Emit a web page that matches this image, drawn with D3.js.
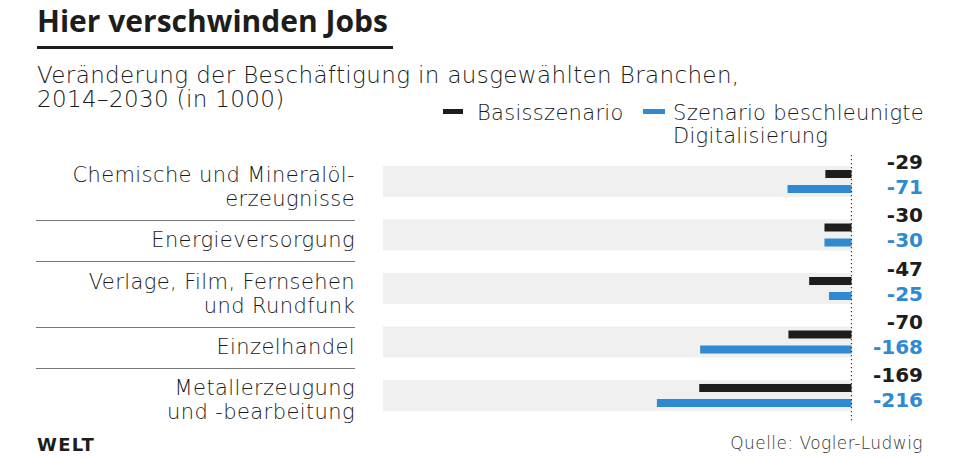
<!DOCTYPE html>
<html><head><meta charset="utf-8">
<script src="https://cdn.jsdelivr.net/npm/d3@7"></script>
<style>
body{margin:0;background:#fff;}
text{font-family:"DejaVu Sans",sans-serif;}
</style></head>
<body><svg id="c" width="960" height="459"></svg>
<script>
const categories = [
  ["Chemische und Mineralöl-", "erzeugnisse"],
  ["Energieversorgung"],
  ["Verlage, Film, Fernsehen", "und Rundfunk"],
  ["Einzelhandel"],
  ["Metallerzeugung", "und -bearbeitung"]
];
const basis = [-29, -30, -47, -70, -169];
const digital = [-71, -30, -25, -168, -216];
const seriesNames = ["Basisszenario", "Szenario beschleunigte", "Digitalisierung"];
const title = "Hier verschwinden Jobs";
const subtitle = ["Veränderung der Beschäftigung in ausgewählten Branchen,", "2014–2030 (in 1000)"];
const source = "Quelle: Vogler-Ludwig";
const logo = "WELT";

const BLACK = "#1d1d1b", BLUE = "#2f8ad2", GRAY = "#f0f0f0", TXT = "#1a1a1a";
const svg = d3.select("#c");

// title
svg.append("text").attr("x", 37).attr("y", 32).attr("font-size", 30).attr("font-weight", 700)
  .style("font-family", "'Open Sans',sans-serif").attr("fill", BLACK).text(title);
svg.append("rect").attr("x", 37).attr("y", 46).attr("width", 356).attr("height", 3).attr("fill", BLACK);
subtitle.forEach((s, i) => svg.append("text").attr("x", 37).attr("y", 83 + i * 24)
  .attr("font-size", 23).attr("font-weight", 300).attr("letter-spacing", 0.37).attr("fill", TXT).text(s));

// scales
const x = d3.scaleLinear().domain([-520, 0]).range([383, 851.5]);
const y = d3.scaleBand().domain(d3.range(categories.length)).range([166, 411]).paddingInner(0.42).paddingOuter(0);
const ys = d3.scaleBand().domain(["b", "d"]).range([0, y.bandwidth()]).paddingInner(0.467).paddingOuter(0.267);

// legend
const lg = svg.append("g").attr("font-size", 21).attr("font-weight", 300).attr("letter-spacing", 0.3).attr("fill", TXT);
lg.append("rect").attr("x", 443).attr("y", 109).attr("width", 20).attr("height", 5).attr("fill", BLACK);
lg.append("text").attr("x", 477).attr("y", 120).text(seriesNames[0]);
lg.append("rect").attr("x", 643).attr("y", 109).attr("width", 22).attr("height", 5).attr("fill", BLUE);
lg.append("text").attr("x", 673).attr("y", 120).text(seriesNames[1]);
lg.append("text").attr("x", 673).attr("y", 143).text(seriesNames[2]);

// background bands
svg.append("g").selectAll("rect").data(categories).join("rect")
  .attr("x", x(-520)).attr("width", x(0) - x(-520))
  .attr("y", (d, i) => y(i)).attr("height", y.bandwidth()).attr("fill", GRAY);

// bars
const rows = categories.map((c, i) => ({ i, b: basis[i], d: digital[i] }));
const bars = svg.append("g");
bars.selectAll(".b").data(rows).join("rect").attr("class", "b")
  .attr("x", d => x(d.b)).attr("width", d => x(0) - x(d.b))
  .attr("y", d => y(d.i) + ys("b")).attr("height", ys.bandwidth()).attr("fill", BLACK);
bars.selectAll(".d").data(rows).join("rect").attr("class", "d")
  .attr("x", d => x(d.d)).attr("width", d => x(0) - x(d.d))
  .attr("y", d => y(d.i) + ys("d")).attr("height", ys.bandwidth()).attr("fill", BLUE);

// zero line
svg.append("line").attr("x1", x(0)).attr("x2", x(0)).attr("y1", 155).attr("y2", 421)
  .attr("stroke", "#333").attr("stroke-width", 1.2).attr("stroke-dasharray", "1.2,2.8");

// value labels
const vl = svg.append("g").attr("font-size", 20).attr("font-weight", 700).attr("text-anchor", "end");
vl.selectAll(".vb").data(rows).join("text").attr("x", 923)
  .attr("y", d => y(d.i) + y.bandwidth() / 2 - 13).attr("fill", BLACK).text(d => d.b);
vl.selectAll(".vd").data(rows).join("text").attr("x", 923)
  .attr("y", d => y(d.i) + y.bandwidth() / 2 + 12).attr("fill", BLUE).text(d => d.d);

// category labels
const lh = 24;
const firstBase = (d, i) => y(i) + y.bandwidth() / 2 + 12 - (d.length - 1) * lh / 2;
const cl = svg.append("g").attr("font-size", 21).attr("font-weight", 300).attr("letter-spacing", 0.4)
  .attr("fill", TXT).attr("text-anchor", "end");
categories.forEach((lines, i) => {
  const t = cl.append("text").attr("x", 355).attr("y", firstBase(lines, i));
  lines.forEach((l, k) => t.append("tspan").attr("x", 355).attr("dy", k ? lh : 0).text(l));
});
// separators between category labels
for (let i = 0; i < categories.length - 1; i++) {
  const lastBase = firstBase(categories[i], i) + (categories[i].length - 1) * lh;
  const nextTop = firstBase(categories[i + 1], i + 1) - 15;
  const sy = Math.round((lastBase + nextTop) / 2) + 1.5;
  svg.append("line").attr("x1", 36).attr("x2", 355).attr("y1", sy).attr("y2", sy)
    .attr("stroke", "#777").attr("stroke-width", 1);
}

// footer
svg.append("text").attr("x", 37).attr("y", 451).attr("font-size", 18).attr("font-weight", 700)
  .attr("fill", BLACK).attr("letter-spacing", 1.3).text(logo);
svg.append("text").attr("x", 923).attr("y", 449).attr("font-size", 17).attr("font-weight", 300)
  .attr("letter-spacing", 0.45).attr("fill", "#333").attr("text-anchor", "end").text(source);
</script></body></html>
